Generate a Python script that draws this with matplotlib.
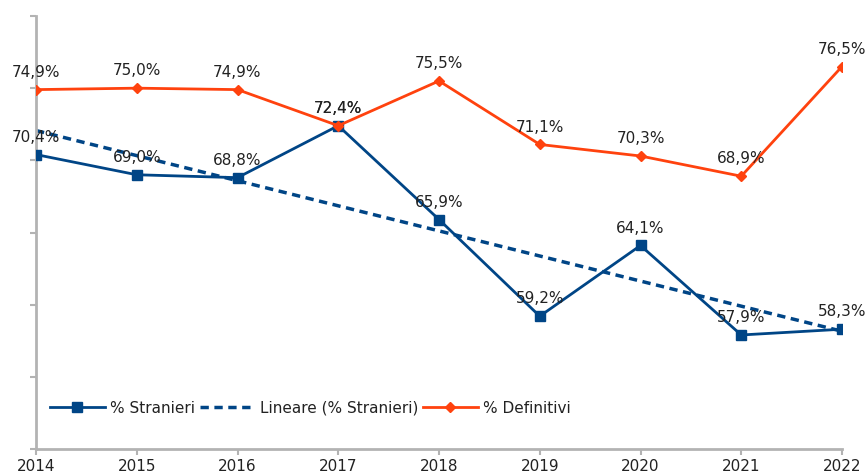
import numpy as np
import matplotlib.pyplot as plt

plt.rcParams['font.family'] = ['DejaVu Sans']

years = [2014, 2015, 2016, 2017, 2018, 2019, 2020, 2021, 2022]
stranieri = [70.4, 69.0, 68.8, 72.4, 65.9, 59.2, 64.1, 57.9, 58.3]
definitivi = [74.9, 75.0, 74.9, 72.4, 75.5, 71.1, 70.3, 68.9, 76.5]

blue = "#004586"
orange = "#ff420e"
grey = "#b3b3b3"
txt = "#222222"

fig = plt.figure(figsize=(8.66, 4.75), dpi=100)
ax = fig.add_axes([36 / 866, 26 / 475, 806 / 866, 433 / 475])

x = np.arange(len(years))
coef = np.polyfit(x, stranieri, 1)
trend = np.polyval(coef, x)

ax.plot(x, stranieri, color=blue, lw=2, marker="s", ms=7.5, label="% Stranieri", zorder=3)
ax.plot(x, trend, color=blue, lw=2.5, linestyle=(0, (2.4, 1.6)), label="Lineare (% Stranieri)", zorder=2)
ax.plot(x, definitivi, color=orange, lw=2, marker="D", ms=5, label="% Definitivi", zorder=3)

for series in (stranieri, definitivi):
    for xi, v in zip(x, series):
        ax.annotate(f"{v:.1f}%".replace(".", ","), (xi, v), xytext=(0, 7), textcoords="offset points",
                    ha="center", va="bottom", fontsize=11, color=txt, zorder=4)

ax.set_xlim(0, len(years) - 1)
ax.set_ylim(50, 80)
ax.set_xticks(x)
ax.set_xticklabels([str(y) for y in years], fontsize=11)
ax.set_yticks(np.arange(50, 81, 5))
ax.set_yticklabels([])

for side in ["top", "right"]:
    ax.spines[side].set_visible(False)
for side in ["left", "bottom"]:
    ax.spines[side].set_color(grey)
    ax.spines[side].set_linewidth(2)
ax.tick_params(axis="both", colors=grey, length=4, width=1.5)
ax.tick_params(axis="x", labelcolor=txt, pad=3)

ax.legend(loc="lower left", bbox_to_anchor=(0.0, 0.045), ncol=3, frameon=False,
          fontsize=11, handlelength=3.6, columnspacing=0.3, handletextpad=0.35,
          labelcolor=txt)

fig.savefig("out.png", dpi=100)
